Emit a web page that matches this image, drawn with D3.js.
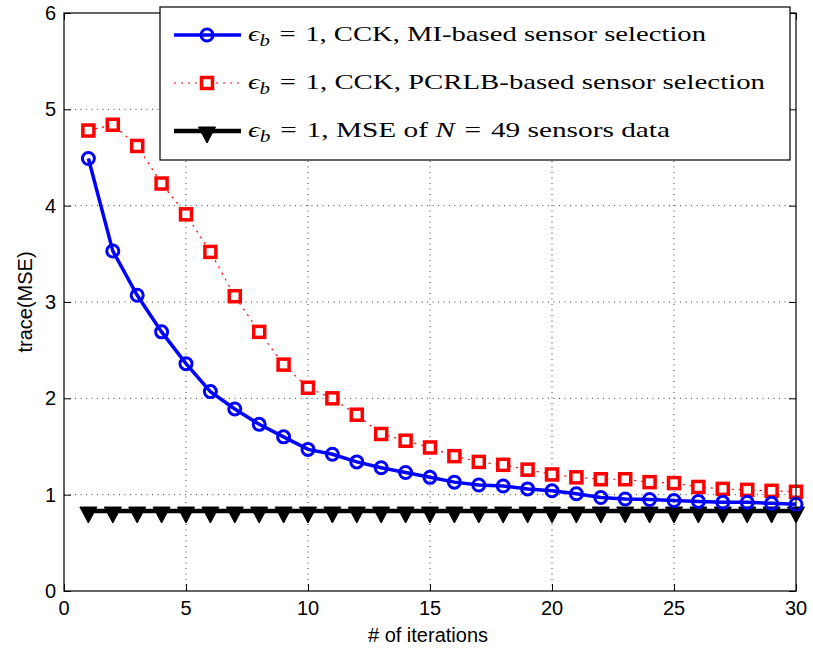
<!DOCTYPE html>
<html>
<head>
<meta charset="utf-8">
<script src="https://cdn.jsdelivr.net/npm/d3@7/dist/d3.min.js"></script>
<style>
  html, body { margin: 0; padding: 0; background: #fff; }
  svg { display: block; }
  .tick-label { font-family: "Liberation Sans", Arial, sans-serif; font-size: 20px; fill: #000; }
  .axis-title { font-family: "Liberation Sans", Arial, sans-serif; font-size: 20px; fill: #000; }
  .legend-text { font-family: "Liberation Serif", "DejaVu Serif", serif; font-size: 22px; fill: #000; }
</style>
</head>
<body>
<script>
// Iteration index shared by all three curves
const iterations = d3.range(1, 31);

// trace(MSE) with MI-based sensor selection
const miValues = [4.49, 3.53, 3.07, 2.69, 2.36, 2.07, 1.89, 1.73, 1.60, 1.47,
                  1.42, 1.34, 1.28, 1.23, 1.18, 1.13, 1.10, 1.09, 1.06, 1.04,
                  1.01, 0.97, 0.955, 0.95, 0.94, 0.93, 0.92, 0.92, 0.91, 0.90];

// trace(MSE) with PCRLB-based sensor selection
const pcrlbValues = [4.78, 4.84, 4.62, 4.23, 3.91, 3.52, 3.06, 2.69, 2.35, 2.11,
                     2.00, 1.83, 1.63, 1.56, 1.49, 1.40, 1.34, 1.31, 1.26, 1.21,
                     1.18, 1.16, 1.16, 1.13, 1.12, 1.08, 1.06, 1.05, 1.04, 1.03];

// MSE using data from all N = 49 sensors (constant)
const fullValues = iterations.map(() => 0.83);

const xTicks = [0, 5, 10, 15, 20, 25, 30];
const yTicks = [0, 1, 2, 3, 4, 5, 6];

const W = 813, H = 654;
const margin = { left: 64, right: 17, top: 13, bottom: 63 };

const svg = d3.select("body").append("svg").attr("width", W).attr("height", H);

const x = d3.scaleLinear().domain([0, 30]).range([margin.left, W - margin.right]);
const y = d3.scaleLinear().domain([0, 6]).range([H - margin.bottom, margin.top]);

const x0 = x.range()[0], x1 = x.range()[1];
const y0 = y.range()[0], y1 = y.range()[1];

// Dotted grid
const grid = svg.append("g").attr("stroke", "#000").attr("stroke-width", 1)
  .attr("stroke-dasharray", "1,4.5").attr("opacity", 0.75);
grid.selectAll(".gx").data(xTicks.slice(1, -1)).enter().append("line")
  .attr("x1", d => x(d)).attr("x2", d => x(d)).attr("y1", y0).attr("y2", y1);
grid.selectAll(".gy").data(yTicks.slice(1, -1)).enter().append("line")
  .attr("y1", d => y(d)).attr("y2", d => y(d)).attr("x1", x0).attr("x2", x1);

// Tick marks on all four sides, pointing inward
const tickLen = 7;
const axisG = svg.append("g");
const bottomAxis = d3.axisBottom(x).tickValues(xTicks).tickSize(-tickLen).tickFormat("");
const topAxis = d3.axisTop(x).tickValues(xTicks).tickSize(-tickLen).tickFormat("");
const leftAxis = d3.axisLeft(y).tickValues(yTicks).tickSize(-tickLen).tickFormat("");
const rightAxis = d3.axisRight(y).tickValues(yTicks).tickSize(-tickLen).tickFormat("");
[[bottomAxis, `translate(0,${y0})`], [topAxis, `translate(0,${y1})`],
 [leftAxis, `translate(${x0},0)`], [rightAxis, `translate(${x1},0)`]].forEach(([ax, tr]) => {
  const g = axisG.append("g").attr("transform", tr).call(ax);
  g.select(".domain").remove();
  g.selectAll("line").attr("stroke", "#000").attr("stroke-width", 1);
});

// Tick labels
svg.append("g").selectAll("text").data(xTicks).enter().append("text")
  .attr("class", "tick-label").attr("x", d => x(d)).attr("y", y0 + 24)
  .attr("text-anchor", "middle").text(d => d);
svg.append("g").selectAll("text").data(yTicks).enter().append("text")
  .attr("class", "tick-label").attr("x", x0 - 8).attr("y", d => y(d) + 7)
  .attr("text-anchor", "end").text(d => d);

// Axis titles
svg.append("text").attr("class", "axis-title")
  .attr("x", (x0 + x1) / 2 - 2).attr("y", 642).attr("text-anchor", "middle").text("# of iterations");
svg.append("text").attr("class", "axis-title")
  .attr("transform", `translate(32,${(y0 + y1) / 2}) rotate(-90)`)
  .attr("text-anchor", "middle").text("trace(MSE)");

const line = d3.line().x((d, i) => x(iterations[i])).y(d => y(d));
const plot = svg.append("g");

// Constant MSE reference (black, down triangles)
const triPath = "M-8.5,-4 L8.5,-4 L0,12 Z";
function drawTri(g) {
  g.append("path").attr("d", triPath).attr("fill", "#000").attr("stroke", "#000").attr("stroke-width", 1);
}
plot.append("path").datum(fullValues).attr("d", line)
  .attr("fill", "none").attr("stroke", "#000").attr("stroke-width", 4.5);
plot.selectAll(".tri").data(fullValues).enter().append("g")
  .attr("transform", (d, i) => `translate(${x(iterations[i])},${y(d)})`)
  .each(function () { drawTri(d3.select(this)); });

// PCRLB curve (red dotted with squares)
plot.append("path").datum(pcrlbValues).attr("d", line)
  .attr("fill", "none").attr("stroke", "#ff0000").attr("stroke-width", 1.2)
  .attr("stroke-dasharray", "2,5");
plot.selectAll(".sq").data(pcrlbValues).enter().append("rect")
  .attr("x", (d, i) => x(iterations[i]) - 5.5).attr("y", d => y(d) - 5.5)
  .attr("width", 11).attr("height", 11)
  .attr("fill", "#fff").attr("stroke", "#ff0000").attr("stroke-width", 3.5);

// MI curve (blue solid with circles)
plot.append("path").datum(miValues).attr("d", line)
  .attr("fill", "none").attr("stroke", "#0000ff").attr("stroke-width", 3.5);
plot.selectAll(".ci").data(miValues).enter().append("circle")
  .attr("cx", (d, i) => x(iterations[i])).attr("cy", d => y(d)).attr("r", 6)
  .attr("fill", "none").attr("stroke", "#0000ff").attr("stroke-width", 3);

// Axes box
svg.append("rect").attr("x", x0).attr("y", y1).attr("width", x1 - x0).attr("height", y0 - y1)
  .attr("fill", "none").attr("stroke", "#000").attr("stroke-width", 1.2);

// Legend
const legendLabels = [
  { rest: ", CCK, MI-based sensor selection", width: 458 },
  { rest: ", CCK, PCRLB-based sensor selection", width: 517 },
  { rest: ", MSE of ", n: true, width: 422 }
];
const leg = svg.append("g");
leg.append("rect").attr("x", 160).attr("y", 7).attr("width", 630).attr("height", 153)
  .attr("fill", "#fff").attr("stroke", "#000").attr("stroke-width", 1.2);

const rowY = [35, 83, 131];
const sx0 = 174, sx1 = 241, sm = 207, tx = 248;
// row 1
leg.append("line").attr("x1", sx0).attr("x2", sx1).attr("y1", rowY[0]).attr("y2", rowY[0])
  .attr("stroke", "#0000ff").attr("stroke-width", 3.5);
leg.append("circle").attr("cx", sm).attr("cy", rowY[0]).attr("r", 6)
  .attr("fill", "none").attr("stroke", "#0000ff").attr("stroke-width", 3);
// row 2
leg.append("line").attr("x1", sx0).attr("x2", sx1).attr("y1", rowY[1]).attr("y2", rowY[1])
  .attr("stroke", "#ff0000").attr("stroke-width", 1.2).attr("stroke-dasharray", "2,5");
leg.append("rect").attr("x", sm - 5.5).attr("y", rowY[1] - 5.5).attr("width", 11).attr("height", 11)
  .attr("fill", "#fff").attr("stroke", "#ff0000").attr("stroke-width", 3.5);
// row 3
leg.append("line").attr("x1", sx0).attr("x2", sx1).attr("y1", rowY[2]).attr("y2", rowY[2])
  .attr("stroke", "#000").attr("stroke-width", 4.5);
leg.append("g").attr("transform", `translate(${sm},${rowY[2]})`).call(drawTri);

legendLabels.forEach((l, i) => {
  const t = leg.append("text").attr("class", "legend-text").attr("x", tx).attr("y", rowY[i] + 6)
    .attr("textLength", l.width).attr("lengthAdjust", "spacingAndGlyphs");
  t.append("tspan").attr("font-style", "italic").text("\u03F5");
  t.append("tspan").attr("font-style", "italic").attr("font-size", "16px").attr("dy", 5).text("b");
  t.append("tspan").attr("dy", -5).text("\u2004=\u20041" + l.rest);
  if (l.n) {
    t.append("tspan").attr("font-style", "italic").text("N");
    t.append("tspan").text("\u2004=\u200449 sensors data");
  }
});
</script>
</body>
</html>
